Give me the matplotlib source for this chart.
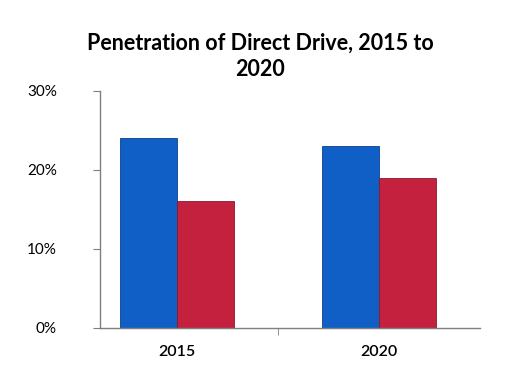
import matplotlib
matplotlib.use("Agg")
import matplotlib.pyplot as plt
import numpy as np

years = ["2015", "2020"]
blue_vals = [24, 23]
red_vals = [16, 19]
y_ticks = [0, 10, 20, 30]
y_labels = ["0%", "10%", "20%", "30%"]

plt.rcParams['font.family'] = ['Lato', 'DejaVu Sans']

fig = plt.figure(figsize=(5.21, 3.68), dpi=100)
ax = fig.add_axes([0.192, 0.109, 0.729, 0.644])

x = np.arange(len(years))
w = 0.282
ax.bar(x - w / 2, blue_vals, w, color="#0f5fc6", edgecolor="#0b3f8a", linewidth=0.6)
ax.bar(x + w / 2, red_vals, w, color="#c4213f", edgecolor="#8a1830", linewidth=0.6)

ax.set_xlim(-0.38, 1.5)
ax.set_ylim(0, 30)
ax.set_yticks(y_ticks)
ax.set_yticklabels(y_labels, fontsize=11)
ax.set_xticks(x)
ax.set_xticklabels(years, fontsize=11.5, fontweight="semibold")
ax.tick_params(axis="x", length=0, pad=12)
ax.set_xticks([0.5], minor=True)
ax.tick_params(axis="x", which="minor", length=5, color="#7f7f7f")
ax.tick_params(axis="y", length=5, color="#7f7f7f", pad=26)
for lab in ax.get_yticklabels():
    lab.set_horizontalalignment("right")

for s in ["top", "right"]:
    ax.spines[s].set_visible(False)
for s in ["left", "bottom"]:
    ax.spines[s].set_color("#7f7f7f")
    ax.spines[s].set_linewidth(1.0)

fig.text(0.5, 0.847, "Penetration of Direct Drive, 2015 to\n2020", ha="center",
         va="center", fontsize=15.5, fontweight="bold", linespacing=1.3)

fig.savefig("out.png", dpi=100)
